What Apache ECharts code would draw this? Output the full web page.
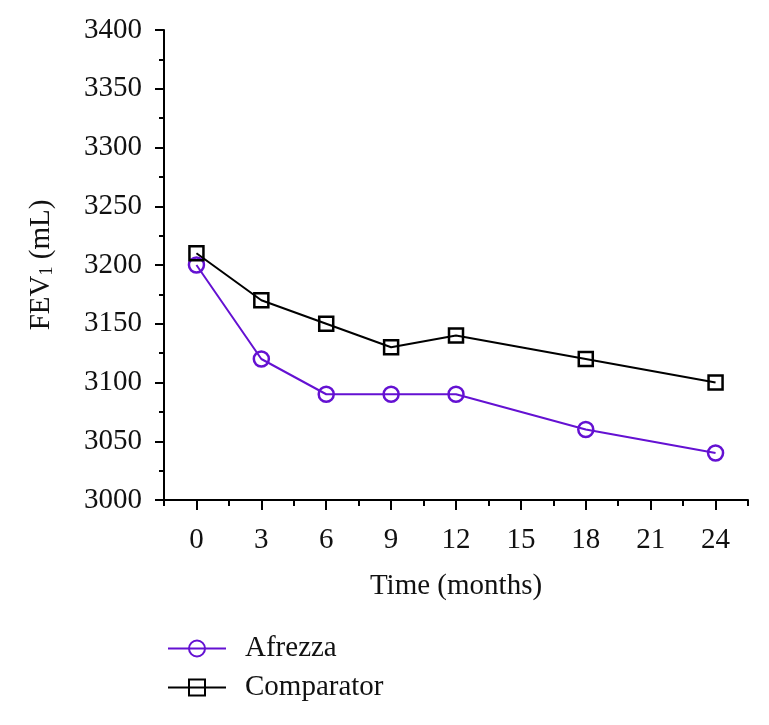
<!DOCTYPE html>
<html>
<head>
<meta charset="utf-8">
<script src="https://cdn.jsdelivr.net/npm/echarts@6/dist/echarts.min.js"></script>
<style>
html,body{margin:0;padding:0;background:#fff;}
#c{width:769px;height:725px;}
</style>
</head>
<body>
<div id="c"></div>
<script>
var months = [0, 3, 6, 9, 12, 18, 24];
var afrezza = [3200, 3120, 3090, 3090, 3090, 3060, 3040];
var comparator = [3210, 3170, 3150, 3130, 3140, 3120, 3100];
var xTickLabels = [0, 3, 6, 9, 12, 15, 18, 21, 24];
var seriesNames = ['Afrezza', 'Comparator'];

var FONT = 'Liberation Serif';
var FS = 29;
function pairs(vals){ return months.map(function(m,i){ return [m, vals[i]]; }); }

var chart = echarts.init(document.getElementById('c'));
chart.setOption({
  animation: false,
  backgroundColor: '#fff',
  grid: { left: 164, right: 21, top: 30, bottom: 225 },
  legend: {
    orient: 'vertical', left: 162, top: 629,
    itemWidth: 58, itemHeight: 20, itemGap: 10,
    textStyle: { fontFamily: FONT, fontSize: FS, color: '#111', padding: [0,0,0,14] },
    data: seriesNames
  },
  xAxis: [{
    type: 'value', min: -1.5, max: 25.5,
    name: 'Time (months)', nameLocation: 'middle', nameGap: 72,
    nameTextStyle: { fontFamily: FONT, fontSize: FS, color: '#111' },
    axisLine: { show: true, onZero: false, lineStyle: { color: '#000', width: 2 } },
    axisTick: { show: true, length: 10, customValues: xTickLabels, lineStyle: { color: '#000', width: 2 } },
    axisLabel: { customValues: xTickLabels, margin: 26, fontFamily: FONT, fontSize: FS, color: '#111',
      formatter: function(v){ return String(v); } },
    splitLine: { show: false }
  }, {
    type: 'value', min: -1.5, max: 25.5, interval: 1.5, position: 'bottom',
    axisLine: { show: false, onZero: false },
    axisTick: { show: true, length: 6, lineStyle: { color: '#000', width: 2 } },
    axisLabel: { show: false },
    splitLine: { show: false }
  }],
  yAxis: {
    type: 'value', min: 3000, max: 3400, interval: 50,
    name: 'FEV{sub|1} (mL)', nameLocation: 'middle', nameGap: 108,
    nameTextStyle: { fontFamily: FONT, fontSize: FS, color: '#111',
      rich: { sub: { fontFamily: FONT, fontSize: 18, color: '#111', verticalAlign: 'bottom', padding: [12,0,0,0] } } },
    axisLine: { show: true, onZero: false, lineStyle: { color: '#000', width: 2 } },
    axisTick: { show: true, length: 9, lineStyle: { color: '#000', width: 2 } },
    minorTick: { show: true, splitNumber: 2, length: 5, lineStyle: { color: '#000', width: 2 } },
    axisLabel: { margin: 22, fontFamily: FONT, fontSize: FS, color: '#111',
      formatter: function(v){ return String(v); } },
    splitLine: { show: false }
  },
  series: [{
    name: seriesNames[0], type: 'line', data: pairs(afrezza),
    symbol: 'circle', symbolSize: 15,
    lineStyle: { color: '#6411d2', width: 2 },
    itemStyle: { color: 'rgba(255,255,255,0)', borderColor: '#6411d2', borderWidth: 2.5 },
    emphasis: { disabled: true }
  }, {
    name: seriesNames[1], type: 'line', data: pairs(comparator),
    symbol: 'rect', symbolSize: 14,
    lineStyle: { color: '#000', width: 2 },
    itemStyle: { color: 'rgba(255,255,255,0)', borderColor: '#000', borderWidth: 2.5 },
    emphasis: { disabled: true }
  }]
});
</script>
</body>
</html>
